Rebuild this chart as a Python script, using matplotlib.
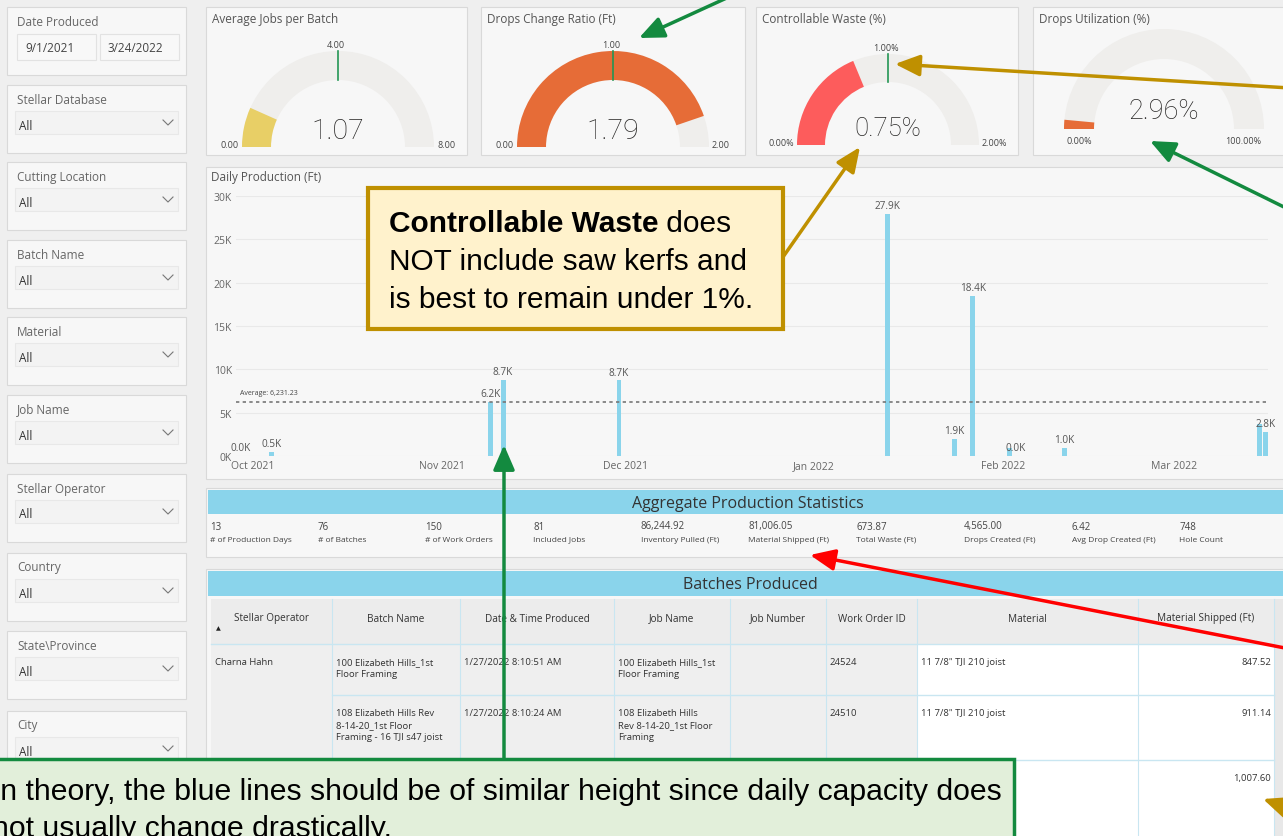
"""Stellar production dashboard with callouts."""

import matplotlib
matplotlib.use("Agg")
import matplotlib.pyplot as plt
import matplotlib.dates as mdates
from matplotlib.patches import Rectangle, Wedge
import numpy as np
import pandas as pd

# ---------------- data ----------------
prod_dates = ["2021-09-29", "2021-10-04", "2021-11-09", "2021-11-11", "2021-11-30",
              "2022-01-13", "2022-01-24", "2022-01-27", "2022-02-02", "2022-02-03",
              "2022-02-11", "2022-03-15", "2022-03-16"]
prod_ft = [20, 480, 6240, 8740, 8720, 27940, 1936, 18440, 980, 30, 980, 3690, 2810]
label_shown = [1, 1, 1, 1, 1, 1, 1, 1, 0, 1, 1, 0, 1]

gauge_titles = ["Average Jobs per Batch", "Drops Change Ratio (Ft)",
                "Controllable Waste (%)", "Drops Utilization (%)"]
gauge_values = [1.07, 1.79, 0.75, 2.96]
gauge_max = [8.0, 2.0, 2.0, 100.0]
gauge_target = [4.0, 1.0, 1.0, None]
gauge_unit = ["", "", "%", "%"]

slicer_titles = ["Stellar Database", "Cutting Location", "Batch Name", "Material",
                 "Job Name", "Stellar Operator", "Country", "State\\Province", "City"]
date_range = ["9/1/2021", "3/24/2022"]

stat_values = ["13", "76", "150", "81", "86,244.92", "81,006.05", "673.87",
               "4,565.00", "6.42", "748"]
stat_labels = ["# of Production Days", "# of Batches", "# of Work Orders", "Included Jobs",
               "Inventory Pulled (Ft)", "Material Shipped (Ft)", "Total Waste (Ft)",
               "Drops Created (Ft)", "Avg Drop Created (Ft)", "Hole Count"]

table_cols = ["Stellar Operator", "Batch Name", "Date & Time Produced", "Job Name",
              "Job Number", "Work Order ID", "Material", "Material Shipped (Ft)"]
row_operator = ["Charna Hahn", "", ""]
row_batch = ["100 Elizabeth Hills_1st\nFloor Framing",
             "108 Elizabeth Hills Rev\n8-14-20_1st Floor\nFraming - 16 TJI s47 joist", ""]
row_time = ["1/27/2022 8:10:51 AM", "1/27/2022 8:10:24 AM", ""]
row_job = ["100 Elizabeth Hills_1st\nFloor Framing",
           "108 Elizabeth Hills\nRev 8-14-20_1st Floor\nFraming", ""]
row_jobnum = ["", "", ""]
row_wo = ["24524", "24510", ""]
row_material = ['11 7/8" TJI 210 joist', '11 7/8" TJI 210 joist', ""]
row_shipped = [847.52, 911.14, 1007.60]

# ---------------- style ----------------
W, H = 1283, 837
PAGE = "#efefef"
PANEL = "#f7f7f7"
EDGE = "#d9d9d9"
BAND = "#8ad4eb"
BAR = "#8ad4eb"
GAUGE_BG = "#efeeec"
GAUGE_COLORS = ["#e8cf66", "#e66c37", "#fd5c5c", "#e66c37"]
TARGET = "#239654"
UI = "Open Sans"
CALLOUT = "Liberation Sans"

plt.rcParams["font.family"] = [UI, "DejaVu Sans"]

fig = plt.figure(figsize=(W / 100, H / 100), dpi=100, facecolor=PAGE)

bg = fig.add_axes([0, 0, 1, 1], zorder=0)
bg.set_xlim(0, W)
bg.set_ylim(H, 0)
bg.axis("off")


def panel(ax, x0, y0, x1, y1, fc=PANEL, ec=EDGE, lw=0.8):
    ax.add_patch(Rectangle((x0, y0), x1 - x0, y1 - y0, fc=fc, ec=ec, lw=lw))


# ---------------- slicers ----------------
panel(bg, 7, 8, 186, 76)
bg.text(17, 22, "Date Produced", fontsize=8.5, color="#666", va="center")
for x0, x1, txt in [(17, 96, date_range[0]), (100, 179, date_range[1])]:
    panel(bg, x0, 35, x1, 61, fc="#f8f8f8", ec="#e2e2e2")
    bg.text(x0 + 8, 48, txt, fontsize=8.5, color="#444", va="center")

slicer_tops = [86, 163, 241, 318, 396, 475, 554, 632, 712]
for top, title in zip(slicer_tops, slicer_titles):
    panel(bg, 7, top, 186, top + 68)
    bg.text(17, top + 14, title, fontsize=8.5, color="#666", va="center")
    panel(bg, 15, top + 26, 178, top + 49, fc="#f3f3f3", ec="#e8e8e8")
    bg.text(19, top + 40, "All", fontsize=8.5, color="#333", va="center")
    bg.plot([163, 168, 173], [top + 35, top + 40, top + 35], color="#777", lw=0.8)

# ---------------- gauges ----------------
gauge_panels = [(206, 467), (481, 745), (756, 1018), (1033, 1300)]
gauge_geom = [(338, 148, 96, 67), (613, 148, 96, 67), (888, 146, 91, 63), (1164, 130, 100, 70)]
value_y = [131, 131, 129, 111]
value_size = [20.5, 20.5, 18.5, 19.5]

for i, title in enumerate(gauge_titles):
    x0, x1 = gauge_panels[i]
    panel(bg, x0, 8, x1, 156)
    bg.text(x0 + 6, 19, title, fontsize=8.5, color="#555", va="center")
    cx, cy, ro, ri = gauge_geom[i]
    vmax = gauge_max[i]
    bg.add_patch(Wedge((cx, cy), ro, 180, 360, width=ro - ri, fc=GAUGE_BG, ec="none"))
    frac = min(gauge_values[i] / vmax, 1.0)
    bg.add_patch(Wedge((cx, cy), ro, 180, 180 + 180 * frac, width=ro - ri,
                       fc=GAUGE_COLORS[i], ec="none"))
    unit = gauge_unit[i]
    bg.text(cx, value_y[i], f"{gauge_values[i]:.2f}{unit}", fontsize=value_size[i],
            family=["Roboto", "DejaVu Sans"], fontweight="light", color="#252423",
            ha="center", va="center")
    lo, hi = f"{0:.2f}{unit}", f"{vmax:.2f}{unit}"
    if gauge_target[i] is not None:
        th = np.deg2rad(180 + 180 * gauge_target[i] / vmax)
        bg.plot([cx + ri * np.cos(th), cx + ro * np.cos(th)],
                [cy + ri * np.sin(th), cy + ro * np.sin(th)], color=TARGET, lw=1.2)
        bg.text(cx + (ro + 10) * np.cos(th) - 2, cy + (ro + 10) * np.sin(th) + 3,
                f"{gauge_target[i]:.2f}{unit}", fontsize=6.5, color="#444",
                ha="center", va="center")
        bg.text(cx - ro - 3, cy - 3, lo, fontsize=6.5, color="#444", ha="right", va="center")
        bg.text(cx + ro + 3, cy - 3, hi, fontsize=6.5, color="#444", ha="left", va="center")
    else:
        bg.text(cx - (ro + ri) / 2, cy + 11, lo, fontsize=6.5, color="#444",
                ha="center", va="center")
        bg.text(cx + (ro + ri) / 2 - 6, cy + 11, hi, fontsize=6.5, color="#444",
                ha="center", va="center")

# ---------------- daily production chart ----------------
panel(bg, 206, 168, 1300, 480)
bg.text(211, 177, "Daily Production (Ft)", fontsize=8.5, color="#555", va="center")

dates = pd.to_datetime(prod_dates).to_pydatetime()
oct1 = mdates.date2num(pd.Timestamp("2021-10-01").to_pydatetime())
px_per_day = (1174 - 253) / 151.0
ax = fig.add_axes([236 / W, 1 - 457 / H, (1268 - 236) / W, (457 - 197) / H], zorder=1)
ax.set_facecolor("none")
ax.bar(dates, prod_ft, width=0.8, color=BAR, zorder=2)
for d, v, show in zip(dates, prod_ft, label_shown):
    if show:
        ax.annotate(f"{v / 1000:.1f}K", (d, v), xytext=(0, 2), textcoords="offset points",
                    ha="center", va="bottom", fontsize=7.2, color="#555")
avg = np.mean(prod_ft)
ax.axhline(avg, color="#777", ls=(0, (2, 2)), lw=1.2, zorder=3)
ax.annotate(f"Average: {avg:,.2f}", xy=(0, avg), xycoords=("axes fraction", "data"),
            xytext=(3, 4), textcoords="offset points", fontsize=5, color="#444", va="bottom")
ax.set_xlim(oct1 - (253 - 236) / px_per_day, oct1 + (1268 - 253) / px_per_day)
ax.set_ylim(0, 30000)
ax.set_yticks(range(0, 30001, 5000))
ax.set_yticklabels([f"{t // 1000}K" for t in range(0, 30001, 5000)])
ax.xaxis.set_major_locator(mdates.MonthLocator())
ax.xaxis.set_major_formatter(mdates.DateFormatter("%b %Y"))
ax.tick_params(length=0, labelsize=7.5, colors="#666", pad=3)
ax.grid(axis="y", color="#e9e9e9", lw=0.8)
ax.set_axisbelow(True)
for s in ax.spines.values():
    s.set_visible(False)

# ---------------- aggregate statistics ----------------
panel(bg, 206, 489, 1300, 558)
bg.add_patch(Rectangle((208, 491), 1100, 24, fc=BAND, ec="none"))
bg.text(748, 504, "Aggregate Production Statistics", fontsize=11.5, color="#333",
        ha="center", va="center")
for k, (val, lab) in enumerate(zip(stat_values, stat_labels)):
    x = 210 + 107.7 * k
    bg.text(x, 527, val, fontsize=7, color="#444", va="center")
    bg.text(x, 540, lab, fontsize=6, color="#444", va="center")

# ---------------- batches table ----------------
panel(bg, 206, 570, 1300, 860)
bg.add_patch(Rectangle((208, 572), 1100, 25, fc=BAND, ec="none"))
bg.text(750, 585, "Batches Produced", fontsize=11.5, color="#333", ha="center", va="center")
col_edges = [211, 332, 460, 614, 730, 826, 917, 1138, 1274]
row_edges = [645, 696, 761, 860]
bg.add_patch(Rectangle((1274, 600), 20, 260, fc="#e8e8e8", ec="none"))
bg.add_patch(Rectangle((211, 600), 1063, 45, fc="#ececec", ec="none"))
bg.add_patch(Rectangle((211, 645), 706, 215, fc="#efefef", ec="none"))
bg.add_patch(Rectangle((917, 645), 357, 215, fc="white", ec="none"))
for c, name in enumerate(table_cols):
    bg.text((col_edges[c] + col_edges[c + 1]) / 2, 619, name, fontsize=7.2, color="#333",
            ha="center", va="center")
bg.text(218, 629, "\u25b2", fontsize=4.5, color="#222", ha="center", va="center",
        family="DejaVu Sans")
for x in col_edges[1:]:
    bg.plot([x, x], [600, 860], color="#c9e6f1", lw=0.8)
bg.plot([211, 1274], [645, 645], color="#c9e6f1", lw=1.0)
for y in row_edges[1:3]:
    bg.plot([332, 1274], [y, y], color="#c9e6f1", lw=1.0)
for r in range(3):
    ty = row_edges[r] + 13
    cells = [row_operator[r], row_batch[r], row_time[r], row_job[r], row_jobnum[r],
             row_wo[r], row_material[r]]
    for c, txt in enumerate(cells):
        if txt:
            bg.text(col_edges[c] + 4, ty, txt, fontsize=6.8, color="#333", va="top",
                    linespacing=1.45)
    bg.text(1271, ty, f"{row_shipped[r]:,.2f}", fontsize=6.8, color="#333",
            ha="right", va="top")

# ---------------- callouts ----------------
ov = fig.add_axes([0, 0, 1, 1], zorder=5)
ov.set_xlim(0, W)
ov.set_ylim(H, 0)
ov.axis("off")

GOLD = "#bf9000"
GREEN = "#138a3f"


def arrow(x0, y0, x1, y1, color, lw=2.5, hl=1.5, hw=0.65):
    ov.annotate("", xy=(x1, y1), xytext=(x0, y0),
                arrowprops=dict(arrowstyle=f"-|>,head_length={hl},head_width={hw}",
                                color=color, lw=lw, shrinkA=0, shrinkB=0))


ov.add_patch(Rectangle((368, 189), 415, 141, fc="#fff2cc", ec=GOLD, lw=3))
t1 = ov.text(389, 224, "Controllable Waste", fontsize=21.5, family=CALLOUT,
             fontweight="bold", color="black", va="center")
ov.annotate(" does", xy=(1, 0), xycoords=t1, fontsize=21.5, family=CALLOUT,
            color="black", va="bottom")
ov.text(389, 262, "NOT include saw kerfs and", fontsize=21.5, family=CALLOUT,
        color="black", va="center")
ov.text(389, 300, "is best to remain under 1%.", fontsize=21.5, family=CALLOUT,
        color="black", va="center")

arrow(783, 258, 860, 148, GOLD)
arrow(1290, 89, 895, 65, GOLD)
arrow(1300, 813, 1263, 800, GOLD)
arrow(731, -3, 639, 39, GREEN)
arrow(1290, 211, 1150, 142, GREEN)
arrow(1290, 650, 810, 556, "#ff0000")

ov.add_patch(Rectangle((-10, 760), 1024, 100, fc="#e2efda", ec=GREEN, lw=2.5))
arrow(504, 760, 504, 446, GREEN)
ov.text(-8, 792, "In theory, the blue lines should be of similar height since daily capacity does",
        fontsize=21.7, family=CALLOUT, color="black", va="center")
ov.text(-8, 829, "not usually change drastically.", fontsize=21.7, family=CALLOUT,
        color="black", va="center")

fig.savefig("out.png", dpi=100, facecolor=PAGE)
